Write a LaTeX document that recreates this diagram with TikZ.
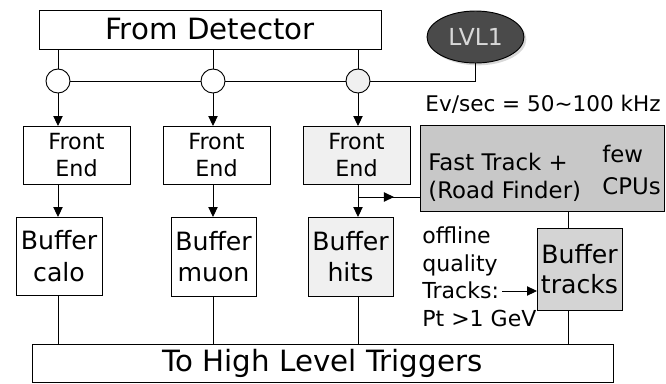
\documentclass[tikz,border=0pt]{standalone}
\usepackage{fontspec}
\setmainfont{DejaVu Sans}
\usetikzlibrary{arrows.meta, positioning, shapes.geometric, shadows, decorations.markings}
\definecolor{lightfill}{HTML}{F0F0F0}
\definecolor{midfill}{HTML}{C8C8C8}
\definecolor{trkfill}{HTML}{D4D4D4}
\definecolor{lvlfill}{HTML}{4A4A4A}
\definecolor{lvltext}{HTML}{D8D8D8}
\newcommand{\fsz}[2]{\fontsize{#1}{#2}\selectfont}

\begin{document}
\begin{tikzpicture}[% styles used in image code
         x = 0.03cm, y = -0.03cm, % one unit = one pixel, y downwards
         line width = 0.8pt,
         > = {Triangle[length=3mm, width=2.8mm]},
box/.style = {draw, inner sep=0pt, outer sep=0pt, align=center},
junc/.style = {circle, draw, fill=white, minimum size=0.72cm,
               inner sep=0pt, outer sep=0pt},
mid arrow/.style = {postaction={decorate},
                    decoration={markings,
                                mark=at position 0.58 with {\arrow{>}}}}
                        ]
	\clip (0,0) rectangle (666,383);

	% detector and level 1 trigger
	\node[box, minimum width=10.26cm, minimum height=1.17cm,
	      font=\fsz{25}{30}] (det) at (210,29.5) {From Detector};
	\node[ellipse, draw, fill=lvlfill, text=lvltext,
	      minimum width=2.91cm, minimum height=1.56cm, inner sep=0pt,
	      drop shadow={fill=black!30, shadow xshift=2pt, shadow yshift=-2pt},
	      font=\fsz{20}{24}] (lvl) at (475.5,37) {LVL1};
	\node[anchor=base west, font=\fsz{18.4}{22}] (ev) at (421,111)
	     {Ev/sec = 50\textasciitilde100 kHz};

	% junctions
	\node[junc] (c1) at (58,81) {};
	\node[junc] (c2) at (213,81) {};
	\node[junc, fill=lightfill] (c3) at (358,81) {};
	\coordinate (tcol) at (568,0);

	% front ends
	\node[box, minimum width=3.21cm, minimum height=1.74cm,
	      font=\fsz{19}{23.6}] (fe1) at (76.5,155) {Front\\End};
	\node[box, minimum width=3.21cm, minimum height=1.74cm,
	      font=\fsz{19}{23.6}] (fe2) at (216.5,155) {Front\\End};
	\node[box, fill=lightfill, minimum width=3.21cm, minimum height=1.74cm,
	      font=\fsz{19}{23.6}] (fe3) at (356.5,155) {Front\\End};

	% buffers
	\node[box, minimum width=2.58cm, minimum height=2.34cm,
	      font=\fsz{21.5}{27}] (b1) at (59,256) {Buffer\\calo};
	\node[box, minimum width=2.55cm, minimum height=2.37cm,
	      font=\fsz{21.5}{27}] (b2) at (213.5,256.5) {Buffer\\muon};
	\node[box, fill=lightfill, minimum width=2.55cm, minimum height=2.37cm,
	      font=\fsz{21.5}{27}] (b3) at (350.5,256.5) {Buffer\\hits};

	% fast track processor
	\node[box, fill=midfill, minimum width=7.32cm, minimum height=2.58cm]
	     (ft) at (542,168) {};
	\node[anchor=west, align=left, font=\fsz{19.5}{24}] (ftt) at (424,177)
	     {Fast Track +\\(Road Finder)};
	\node[anchor=west, align=left, font=\fsz{19.5}{26.5}] (cpu) at (598,170)
	     {few\\CPUs};
	\node[box, fill=trkfill, minimum width=2.55cm, minimum height=2.46cm,
	      font=\fsz{21.5}{25}] (bt) at (579.5,269) {Buffer\\tracks};
	\node[anchor=west, align=left, font=\fsz{18.8}{23.5}] (off) at (418,277)
	     {offline\\quality\\Tracks:\\Pt >1 GeV};
	\coordinate (trk) at (502,291);

	% high level triggers
	\node[box, minimum width=17.43cm, minimum height=1.14cm,
	      font=\fsz{25}{30}] (hlt) at (322.5,363) {To High Level Triggers};

	% detector to junctions, trigger line
	\draw (c1 |- det.south) -- (c1);
	\draw (c2 |- det.south) -- (c2);
	\draw (c3 |- det.south) -- (c3);
	\draw (c1) -- (c2) -- (c3) -- (lvl.south |- c3) -- (lvl.south);

	% junctions to front ends to buffers
	\draw[->] (c1) -- (c1 |- fe1.north);
	\draw[->] (c2) -- (c2 |- fe2.north);
	\draw[->] (c3) -- (c3 |- fe3.north);
	\draw[->] (c1 |- fe1.south) -- (c1 |- b1.north);
	\draw[->] (c2 |- fe2.south) -- (c2 |- b2.north);
	\draw[->] (c3 |- fe3.south) -- (c3 |- b3.north);

	% hits into fast track, tracks out
	\coordinate (split) at (c3 |- 0,197);
	\draw[mid arrow] (split) -- (split -| ft.west);
	\draw (tcol |- ft.south) -- (tcol |- bt.north);
	\draw[->] (trk) -- (trk -| bt.west);

	% buffers to high level triggers
	\draw (c1 |- b1.south) -- (c1 |- hlt.north);
	\draw (c2 |- b2.south) -- (c2 |- hlt.north);
	\draw (c3 |- b3.south) -- (c3 |- hlt.north);
	\draw (tcol |- bt.south) -- (tcol |- hlt.north);
\end{tikzpicture}
\end{document}
